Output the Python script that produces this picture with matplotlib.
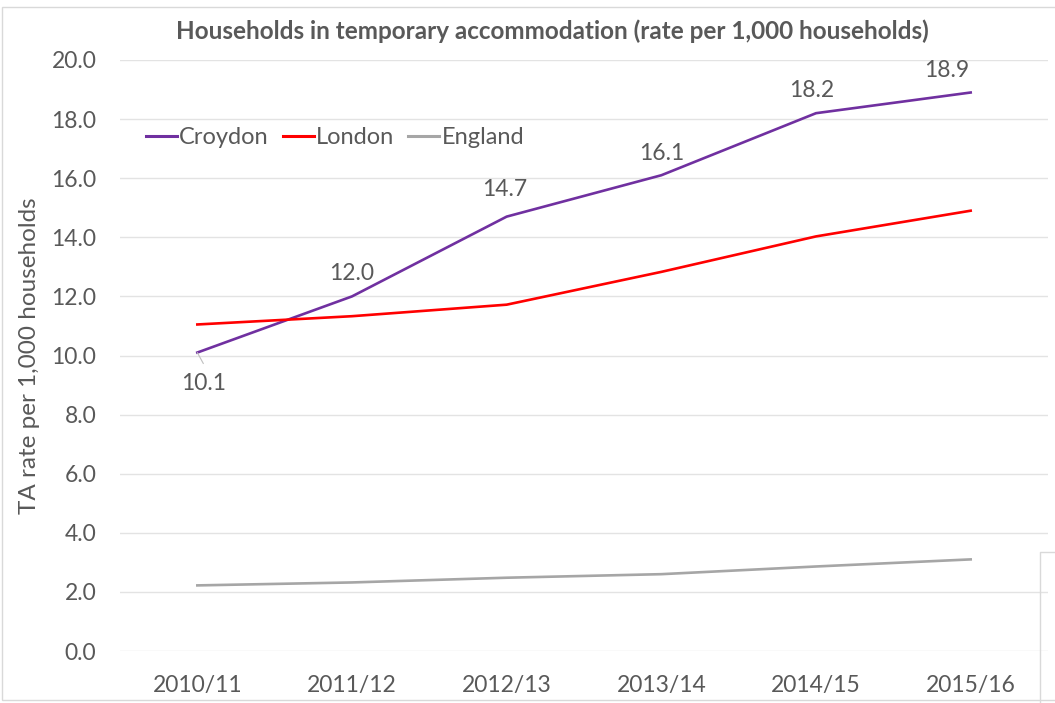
import matplotlib
matplotlib.use('Agg')
import matplotlib.pyplot as plt
from matplotlib.lines import Line2D
from matplotlib.patches import Rectangle

years = ['2010/11', '2011/12', '2012/13', '2013/14', '2014/15', '2015/16']
croydon = [10.1, 12.0, 14.7, 16.1, 18.2, 18.9]
london = [11.05, 11.33, 11.72, 12.83, 14.03, 14.9]
england = [2.22, 2.32, 2.48, 2.6, 2.86, 3.1]

text_grey = '#595959'
plt.rcParams['font.family'] = ['Lato', 'DejaVu Sans']
fs = 16.5

fig = plt.figure(figsize=(10.55, 7.03), dpi=100)
ax = fig.add_axes([120 / 1055, 1 - 651 / 703, 928 / 1055, 591 / 703])

x = list(range(len(years)))
ax.plot(x, croydon, color='#7030a0', lw=1.9, label='Croydon')
ax.plot(x, london, color='#ff0000', lw=1.9, label='London')
ax.plot(x, england, color='#a6a6a6', lw=1.9, label='England')

ax.set_xlim(-0.5, len(years) - 0.5)
ax.set_ylim(0, 20)
ax.set_yticks([i * 2 for i in range(11)])
ax.set_yticklabels([f'{i * 2:.1f}' for i in range(11)])
ax.set_xticks(x)
ax.set_xticklabels(years)
ax.tick_params(axis='both', length=0, labelsize=fs, colors=text_grey)
ax.tick_params(axis='y', pad=17)
ax.tick_params(axis='x', pad=17)
for s in ax.spines.values():
    s.set_visible(False)
ax.grid(axis='y', color='#e3e3e3', lw=1)
ax.set_axisbelow(True)

ax.set_ylabel('TA rate per 1,000 households', fontsize=17.5, color=text_grey, labelpad=8)

# value labels for Croydon
offsets = [(6, -31), (0, 23), (-2, 27), (0, 22), (-4, 23), (-24, 22)]
for i, (v, (dx, dy)) in enumerate(zip(croydon, offsets)):
    ax.annotate(f'{v:.1f}', (i, v), xytext=(dx, dy), textcoords='offset pixels',
                ha='center', va='center', fontsize=fs, color=text_grey)
# leader line for the first label
ax.annotate('', (0, croydon[0]), xytext=(6, -11), textcoords='offset pixels',
            arrowprops=dict(arrowstyle='-', color='#bfbfbf', lw=0.8, shrinkA=0, shrinkB=0))

handles = [Line2D([], [], color=c, lw=2.2) for c in ['#7030a0', '#ff0000', '#a6a6a6']]
ax.legend(handles, ['Croydon', 'London', 'England'], loc='center left',
          bbox_to_anchor=(0.018, 1 - (138 - 60) / 591), ncol=3, frameon=False, fontsize=17,
          handlelength=1.3, handletextpad=0.1, columnspacing=0.6,
          labelcolor=text_grey, borderaxespad=0)

fig.text(552 / 1055, 1 - 31 / 703, 'Households in temporary accommodation (rate per 1,000 households)',
         ha='center', va='center', fontsize=17.5, weight='bold', color=text_grey)

# chart border
fig.patches.append(Rectangle((2 / 1055, 3 / 703), 1.1, 1 - 10 / 703, transform=fig.transFigure,
                             fill=False, edgecolor='#d9d9d9', lw=1))
fig.add_artist(Line2D([1040 / 1055, 1040 / 1055, 1], [0, 1 - 552 / 703, 1 - 552 / 703],
                      transform=fig.transFigure, color='#d9d9d9', lw=1))

fig.savefig('out.png', dpi=100, facecolor='white')
